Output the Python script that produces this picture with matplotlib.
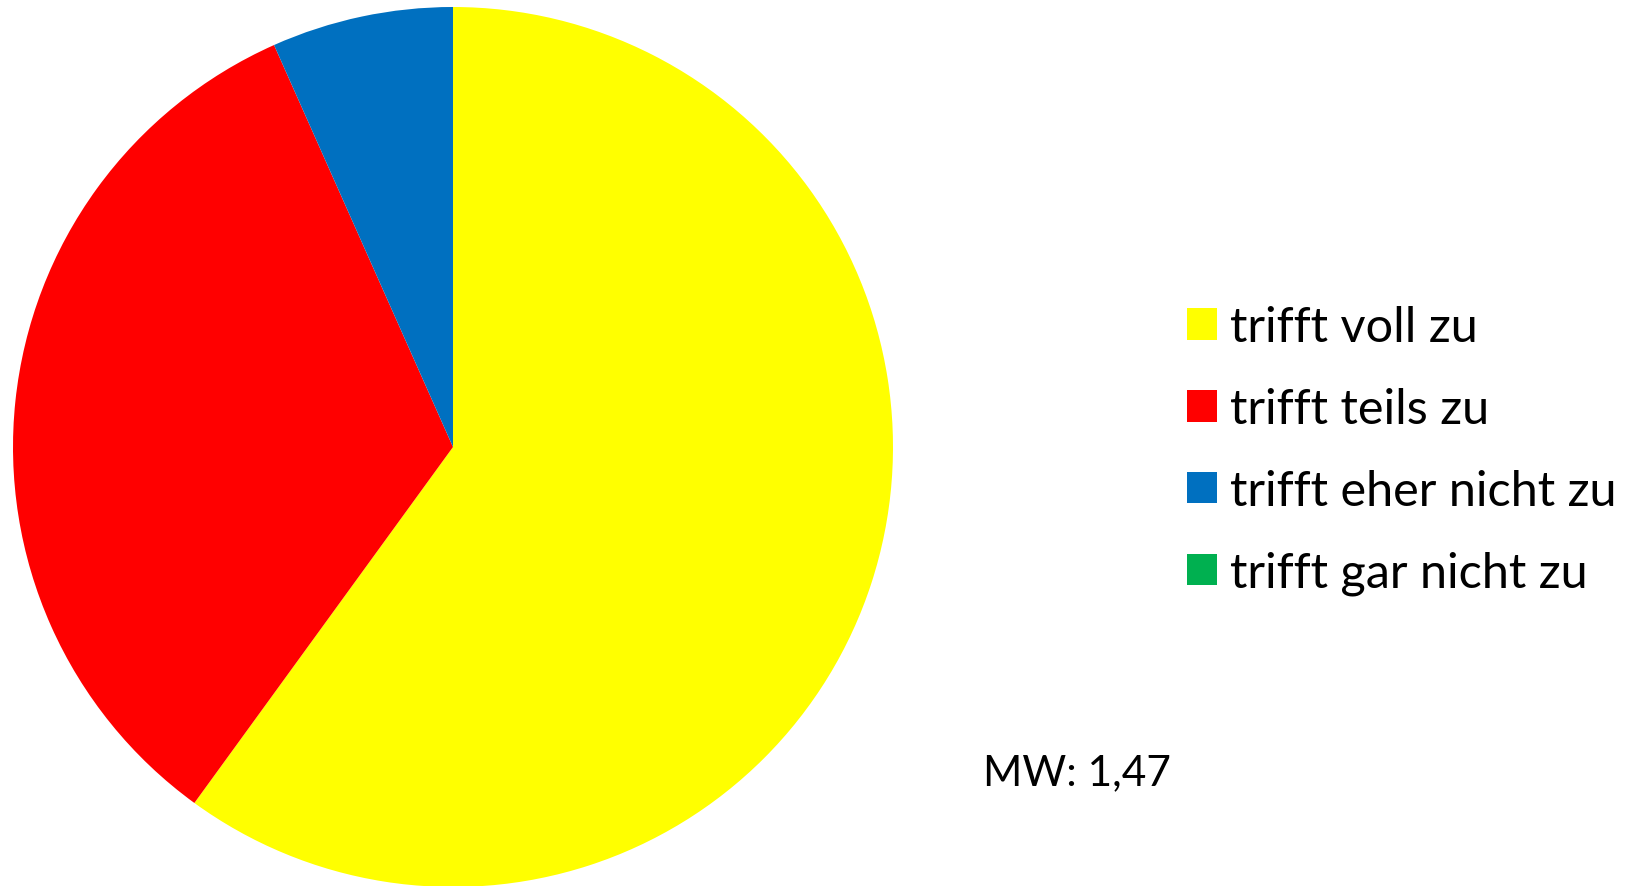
import matplotlib.pyplot as plt

# Antworten (Anzahl), Farben wie im Original
kategorien = ["trifft voll zu", "trifft teils zu", "trifft eher nicht zu", "trifft gar nicht zu"]
anzahl = [9, 5, 1, 0]
farben = ["#FFFF00", "#FF0000", "#0070C0", "#00B050"]
mittelwert = "MW: 1,47"

plt.rcParams['font.family'] = ['Lato', 'DejaVu Sans']

fig = plt.figure(figsize=(16.38, 8.87), dpi=100)
# Kreis: Mitte (453, 448) px, Radius 440 px
ax = fig.add_axes([13/1638, -1/887, 880/1638, 880/887])
wedges, _ = ax.pie(anzahl, colors=farben, startangle=90, counterclock=False,
                   wedgeprops=dict(linewidth=0))
ax.set_xlim(-1, 1)
ax.set_ylim(-1, 1)
ax.set_aspect('equal')
ax.axis('off')

leg = fig.legend(wedges, kategorien, loc='upper left',
                 bbox_to_anchor=(1187/1638, 1 - 306/887),
                 frameon=False, fontsize=35,
                 handlelength=0.62, handleheight=0.62,
                 handletextpad=0.27, labelspacing=0.78,
                 borderpad=0, borderaxespad=0)

fig.text(983/1638, 1 - 785/887, mittelwert, fontsize=30.5, ha='left', va='baseline')

fig.savefig("out.png", dpi=100)
